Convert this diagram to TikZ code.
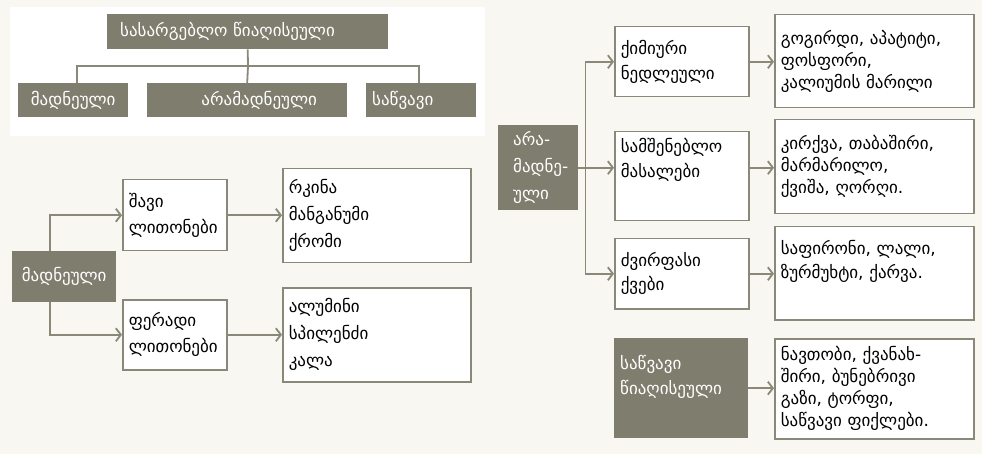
\documentclass[tikz,border=0pt]{standalone}
\usepackage{fontspec}
\setmainfont{DejaVu Sans}
\usetikzlibrary{arrows.meta,positioning}
\definecolor{bgcolor}{RGB}{248,247,242}
\definecolor{boxgray}{RGB}{127,125,110}
\definecolor{linegray}{RGB}{137,136,121}

\begin{document}
\begin{tikzpicture}[x=1pt,y=-1pt,font=\fontsize{17}{22}\selectfont,
  gbox/.style={fill=boxgray,text=white,anchor=north west,inner xsep=6pt,inner ysep=0pt},
  wbox/.style={draw=linegray,line width=1.5pt,fill=white,anchor=north west,align=left,inner xsep=6pt,inner ysep=0pt},
  conn/.style={draw=linegray,line width=1.8pt},
  arr/.style={conn,-{Straight Barb[length=5pt,width=13pt]}}]
% background and top panel
\fill[bgcolor] (0,0) rectangle (982,454);
\fill[white] (10,7) rectangle (485,136);
\useasboundingbox (0,0) rectangle (982,454);
% classification tree
\node[gbox,minimum width=281,minimum height=35,text width=255,align=left,inner xsep=13pt](useful) at (107,14){სასარგებლო წიაღისეული};
\node[gbox,minimum width=110,minimum height=34,inner xsep=2pt](ore) at (18,83){მადნეული};
\node[gbox,minimum width=200,minimum height=34](nonore) at (147,83){\hspace{24pt}არამადნეული};
\node[gbox,minimum width=110,minimum height=34,text width=98,align=left](fuel) at (366,83){საწვავი};
\coordinate (tj) at (248,66);
\draw[conn](useful.south)--(tj); \draw[conn](tj)--(nonore.north);
\draw[conn]([xshift=4pt]ore.north)|-(tj); \draw[conn]([xshift=-2pt]fuel.north)|-(tj);
% metallic
\node[gbox,minimum width=104,minimum height=51,inner xsep=2pt](madn) at (12,251){მადნეული};
\node[wbox,minimum width=104,minimum height=71,text width=92,font=\fontsize{17}{26}\selectfont](ferrous) at (122,179){შავი\\ლითონები};
\node[wbox,minimum width=104,minimum height=70,text width=92,font=\fontsize{17}{26}\selectfont](nonferrous) at (122,299){ფერადი\\ლითონები};
\node[wbox,minimum width=188,minimum height=94,text width=176,font=\fontsize{17}{27}\selectfont](iron) at (282,168){რკინა\\მანგანუმი\\ქრომი};
\node[wbox,minimum width=188,minimum height=94,text width=176,font=\fontsize{17}{27}\selectfont](alu) at (282,287){ალუმინი\\სპილენძი\\კალა};
\draw[arr]([xshift=-14pt]madn.north)|-(ferrous.west); \draw[arr]([xshift=-14pt]madn.south)|-(nonferrous.west);
\draw[arr](ferrous.east)--(ferrous.east-|iron.west); \draw[arr](nonferrous.east)--(nonferrous.east-|alu.west);
% non-metallic
\node[gbox,minimum width=80,minimum height=85,text width=62,align=left,inner xsep=9pt,font=\fontsize{17}{27}\selectfont](ara) at (498,125){\hspace*{6pt}არა-\\\hspace*{6pt}მადნე-\\\hspace*{6pt}ული};
\node[wbox,minimum width=134,minimum height=70,text width=122,font=\fontsize{17}{25}\selectfont](chem) at (614,26){ქიმიური\\ნედლეული};
\node[wbox,minimum width=134,minimum height=89,text width=122,font=\fontsize{17}{25}\selectfont](build) at (614,131){სამშენებლო\\მასალები\\[12pt]\mbox{}};
\node[wbox,minimum width=134,minimum height=70,text width=122,font=\fontsize{17}{24}\selectfont](gems) at (614,238){ძვირფასი\\ქვები};
\node[gbox,minimum width=134,minimum height=100,text width=122,align=left,font=\fontsize{17}{25}\selectfont](fuelmin) at (614,338){საწვავი\\წიაღისეული\\[2pt]\mbox{}};
\node[wbox,minimum width=199,minimum height=93,text width=187](sulf) at (774,14){გოგირდი, აპატიტი,\\ფოსფორი,\\კალიუმის მარილი};
\node[wbox,minimum width=199,minimum height=94,text width=187](lime) at (774,119){კირქვა, თაბაშირი,\\მარმარილო,\\ქვიშა, ღორღი.};
\node[wbox,minimum width=199,minimum height=93,text width=187,font=\fontsize{17}{24}\selectfont](saph) at (774,226){საფირონი, ლალი,\\ზურმუხტი, ქარვა.\\[4pt]\mbox{}};
\node[wbox,minimum width=199,minimum height=100,text width=187](oil) at (774,338){ნავთობი, ქვანახ-\\შირი, ბუნებრივი\\გაზი, ტორფი,\\საწვავი ფიქლები.};
\coordinate (trunk) at ([xshift=7pt]ara.east);
\draw[conn](ara.east)--(trunk);
\draw[arr](trunk|-chem.west)--(trunk)--(trunk|-gems.west)--(gems.west);
\draw[arr](trunk|-chem.west)--(chem.west);
\draw[arr](trunk)--(trunk-|build.west);
\draw[arr](chem.east)--(chem.east-|sulf.west); \draw[arr](ara.east-|build.east)--(ara.east-|lime.west);
\draw[arr](gems.east)--(gems.east-|saph.west); \draw[arr](fuelmin.east)--(fuelmin.east-|oil.west);
\end{tikzpicture}
\end{document}
